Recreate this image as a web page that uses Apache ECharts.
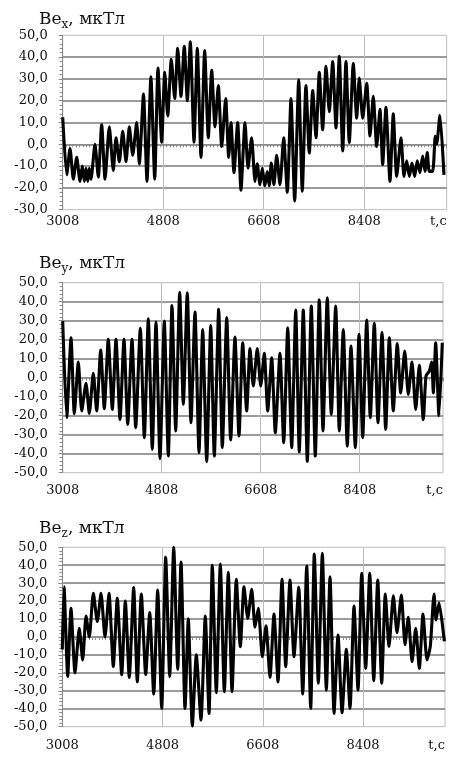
<!DOCTYPE html>
<html>
<head>
<meta charset="utf-8">
<script src="https://cdn.jsdelivr.net/npm/echarts@6/dist/echarts.min.js"></script>
<style>
  html, body { margin: 0; padding: 0; background: #fff; }
  #chart { width: 462px; height: 760px; }
</style>
</head>
<body>
<div id="chart"></div>
<script>
// start of the time axis, s
const T0 = 3008;
const xTicks = ['3008', '4808', '6608', '8408'];
const xName = 't,c';

// Be_x, мкТл
const bexT = [3008,3080,3139,3198,3259,3318,3359,3395,3425,3456,3484,3515,3586,3646,3706,3766,3843,3914,3963,4022,4083,4142,4201,4262,4333,4380,4455,4518,4588,4656,4715,4781,4835,4889,4953,5014,5068,5127,5186,5240,5294,5360,5419,5485,5551,5616,5677,5736,5795,5856,5927,5981,6022,6076,6142,6201,6273,6327,6392,6452,6493,6541,6583,6631,6672,6708,6744,6792,6840,6900,6966,7031,7097,7163,7235,7299,7365,7425,7486,7545,7604,7664,7724,7783,7844,7903,7962,8023,8082,8141,8213,8274,8320,8381,8453,8512,8571,8632,8691,8739,8798,8870,8929,8990,9067,9121,9169,9216,9264,9312,9359,9407,9456,9497,9538,9574,9635,9681,9706,9765,9837];
const bexV = [12.4,-14,-2,-16,-6,-17,-10,-17,-11,-17,-11,-16,0,-15,9,-16,8,-12,3,-8,6,-8,8,-5,10,-9,23,-17,31,-16,35,1,33,13,39,21,44,22,45,20,47,1,44,-6,43,3,34,8,27,-1,21,-6,10,-13,10,-21,10,-11,3,-17,-9,-18.5,-11,-19,-12.5,-19,-8.6,-18.5,-5,-18.5,3,-22,21,-26,29.6,-21.5,27,-4,24.6,3,33,6.7,35.8,15,38,7.5,40.4,-3,38,0.8,37,12,30.4,12,28,3.8,22,-1,16,-9.3,17,-17,14,-14.7,3,-14.7,-7.6,-14.7,-8.6,-14.7,-7.6,-13,-5.4,-12.4,-3.8,-12.4,-12.4,3.7,0,13.3,-14];

// Be_y, мкТл
const beyT = [3008,3081,3159,3219,3292,3353,3432,3492,3564,3626,3699,3764,3837,3910,3977,4050,4122,4190,4268,4335,4419,4492,4564,4637,4704,4777,4855,4928,4995,5062,5135,5201,5273,5340,5413,5486,5553,5626,5699,5764,5844,5910,5990,6062,6140,6213,6280,6353,6413,6473,6546,6608,6673,6735,6808,6873,6958,7026,7099,7171,7244,7309,7382,7455,7528,7600,7673,7740,7818,7891,7971,8037,8109,8182,8249,8328,8395,8462,8535,8600,8673,8740,8813,8880,8946,9018,9091,9153,9226,9291,9358,9426,9491,9564,9613,9673,9717,9746,9789,9849,9909];
const beyV = [29.8,-21,21,-19,8.2,-17.5,-3,-18.8,2.3,-17.5,14.6,-16.3,20.2,-16.7,20.2,-22,20.2,-24.6,20.2,-26.3,26,-31.6,31,-37.7,29.3,-42.6,29.8,-41.2,38,-28,45,-14,44.7,-23.7,34.6,-39.5,25.4,-44.2,27.5,-41.2,36,-36.8,31.6,-32.8,21.4,-30.7,18.4,-17.5,15.3,-4.4,15.3,-4.4,12.8,-17.5,10.5,-29,12.8,-34.2,26.3,-36.8,35.6,-39,35.6,-44,37.7,-41.2,41,-28,42,-19.3,37.7,-28,25.4,-36,16.7,-36.8,22.8,-31.6,30.4,-21,28.6,-23.7,23.7,-27.2,21,-17.5,18,-8,14,-8.8,8.2,-16.7,6.5,-22,0.9,3.5,8.2,-8,18.4,-20,18.4];

// Be_z, мкТл
const bezT = [3008,3039,3105,3164,3236,3313,3374,3434,3493,3565,3637,3703,3775,3847,3924,3996,4075,4140,4211,4290,4355,4427,4506,4578,4650,4721,4793,4865,4937,5009,5081,5140,5212,5271,5343,5415,5499,5576,5643,5702,5774,5846,5918,5989,6056,6133,6205,6271,6338,6410,6469,6528,6600,6666,6738,6810,6882,6954,7020,7097,7169,7254,7326,7397,7469,7534,7606,7678,7750,7816,7888,7960,8032,8109,8175,8247,8319,8385,8457,8529,8601,8673,8744,8809,8876,8953,9019,9097,9163,9222,9289,9355,9420,9486,9558,9617,9684,9720,9774,9869];
const bezV = [-7,28,-22,16,-20,4.8,-12.8,11.7,0,24.4,8.6,24.4,0,24.4,-16.5,21.6,-21,20,-22.5,27.5,-25,24,-21,13.6,-31.8,26.2,-39.8,44.4,-22,50,-18,41.8,-39.8,10.2,-49.6,-9.9,-46.3,11.7,-42.6,40,-31,40.7,-30.5,36,-30.5,32.2,-5.4,28,10.4,26.6,5.4,16,-11,6.3,-22.5,12.8,-25,32.2,-16.5,31.8,-11,27.7,-31.8,39.6,-39.8,46.3,-25.8,46.7,-29.6,33.6,-42.6,1.1,-42.2,-6.9,-39.8,17.3,-29.6,35.5,-17.5,35.5,-24.3,31.8,-25.8,24,-5.2,22.9,2.4,23.4,-4.3,11,-13.8,4.8,-17.5,12.8,-12.8,-5.2,24,9.5,19,-2.4];

const myChart = echarts.init(document.getElementById('chart'), null, { width: 462, height: 760 });

const font = 'DejaVu Serif';
const axisGray = '#8c8c8c';

// one panel: grid box, x span (s after T0), y range, label gap under the axis
const panels = [
  { sub: 'x', t: bexT, v: bexV, grid: { left: 62.7, top: 35.3, width: 384, height: 174.4 }, span: 6878, ymin: -30, ymax: 50, xMargin: 5, titleTop: 9 },
  { sub: 'y', t: beyT, v: beyV, grid: { left: 62.7, top: 282.7, width: 380.3, height: 190 }, span: 6914, ymin: -50, ymax: 50, xMargin: 11, titleTop: 253 },
  { sub: 'z', t: bezT, v: bezV, grid: { left: 62.3, top: 547.3, width: 382.7, height: 179.4 }, span: 6873, ymin: -50, ymax: 50, xMargin: 12, titleTop: 518 }
];

const titleRich = {
  b: { fontFamily: font, fontSize: 17, fontWeight: 'normal', color: '#111', lineHeight: 22 },
  s: { fontFamily: font, fontSize: 12, fontWeight: 'normal', color: '#111', lineHeight: 16, verticalAlign: 'bottom' }
};

let option = {
  animation: false,
  backgroundColor: '#fff',
  title: panels.map(p => ({
    left: 39,
    top: p.titleTop,
    padding: 0,
    text: '{b|Be}{s|' + p.sub + '}{b|, мкТл}',
    textStyle: { fontWeight: 'normal', rich: titleRich }
  })),
  grid: panels.map(p => Object.assign({ show: true, borderColor: '#bdbdbd', borderWidth: 1 }, p.grid)),
  xAxis: panels.map((p, i) => ({
    type: 'value',
    gridIndex: i,
    min: 0,
    max: p.span,
    interval: 1800,
    axisLine: { lineStyle: { color: axisGray, width: 1 } },
    axisTick: { length: 4, lineStyle: { color: axisGray } },
    minorTick: { show: true, splitNumber: 30, length: 3, lineStyle: { color: axisGray } },
    axisLabel: {
      margin: p.xMargin,
      color: '#111',
      fontFamily: font,
      fontSize: 13,
      showMinLabel: true,
      showMaxLabel: true,
      alignMaxLabel: 'right',
      formatter: v => (v === p.span ? xName : xTicks[Math.round(v / 1800)])
    },
    splitLine: { show: true, showMinLine: false, showMaxLine: false, lineStyle: { color: '#bdbdbd', width: 1 } }
  })),
  yAxis: panels.map((p, i) => ({
    type: 'value',
    gridIndex: i,
    min: p.ymin,
    max: p.ymax,
    interval: 10,
    axisLine: { show: true, lineStyle: { color: axisGray, width: 1 } },
    axisTick: { show: true, length: 4, lineStyle: { color: axisGray } },
    minorTick: { show: true, splitNumber: 5, length: 3, lineStyle: { color: axisGray } },
    axisLabel: {
      margin: 15,
      color: '#111',
      fontFamily: font,
      fontSize: 13,
      formatter: v => v.toFixed(1).replace('.', ',')
    },
    splitLine: { show: true, showMinLine: false, showMaxLine: false, lineStyle: { color: '#7a7a7a', width: 1.5 } }
  })),
  series: panels.map((p, i) => ({
    name: 'Be' + p.sub,
    type: 'line',
    xAxisIndex: i,
    yAxisIndex: i,
    showSymbol: false,
    smooth: 0.2,
    lineStyle: { color: '#000', width: 3.1 },
    data: p.t.map((t, k) => [t - T0, p.v[k]])
  }))
};

myChart.setOption(option);
window.addEventListener('resize', () => myChart.resize(), false);
</script>
</body>
</html>
